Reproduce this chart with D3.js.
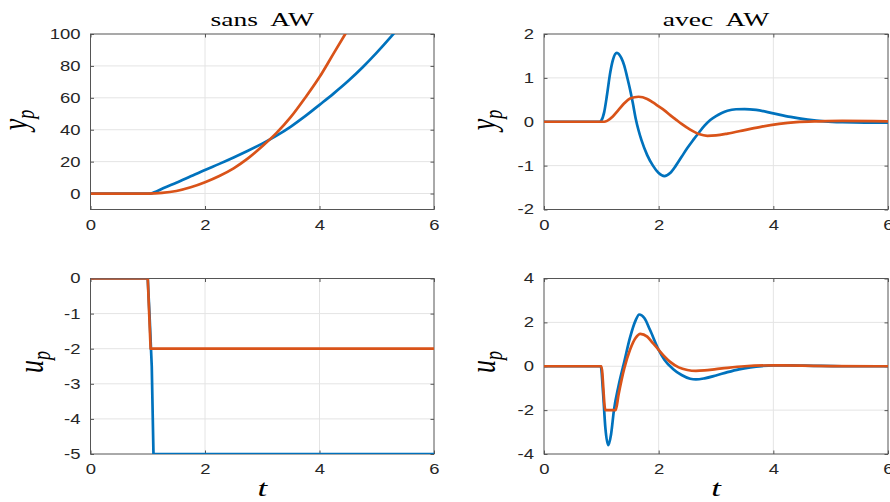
<!DOCTYPE html>
<html>
<head>
<meta charset="utf-8">
<script src="https://cdn.jsdelivr.net/npm/d3@7"></script>
<style>
  body { margin: 0; background: #fff; }
  svg { display: block; }
</style>
</head>
<body>
<svg id="chart" width="890" height="502"></svg>
<script>
// ---------- data ----------
const xTicks = [0, 2, 4, 6];

// top-left: y_p without anti-windup
const tlBlueT = [0, 1.05, 1.1, 1.3, 1.5, 1.75, 2, 2.25, 2.5, 2.75, 3, 3.25, 3.5, 3.75, 4, 4.25, 4.5, 4.75, 5, 5.25, 5.35];
const tlBlueY = [0, 0, 0.6, 3.8, 6.8, 10.8, 14.8, 18.6, 22.6, 26.8, 31.3, 36.3, 42, 48.5, 55.6, 62.8, 70.5, 79, 88.3, 98.3, 102.5];
const tlOrangeT = [0, 1.0, 1.25, 1.5, 1.75, 2, 2.25, 2.5, 2.75, 3, 3.25, 3.5, 3.75, 4, 4.25, 4.45, 4.5];
const tlOrangeY = [0, 0, 0.4, 1.6, 3.9, 7.1, 11, 15.8, 22, 29.6, 38, 48, 60, 73, 88, 100, 103];
const tlYTicks = [0, 20, 40, 60, 80, 100];

// top-right: y_p with anti-windup
const trBlueT = [0, 0.97, 1.0, 1.05, 1.1, 1.15, 1.2, 1.27, 1.35, 1.4, 1.45, 1.5, 1.55, 1.6, 1.65, 1.7, 1.8, 1.9, 2.0, 2.1, 2.2, 2.3, 2.4, 2.5, 2.6, 2.7, 2.8, 2.9, 3.0, 3.1, 3.2, 3.35, 3.5, 3.7, 4.0, 4.3, 4.6, 4.9, 5.2, 5.6, 6];
const trBlueY = [0, 0, 0.03, 0.22, 0.62, 1.08, 1.4, 1.57, 1.45, 1.28, 1.02, 0.74, 0.42, 0.07, -0.2, -0.42, -0.76, -1.0, -1.17, -1.24, -1.17, -1.0, -0.8, -0.6, -0.42, -0.25, -0.09, 0.04, 0.13, 0.2, 0.25, 0.285, 0.29, 0.27, 0.19, 0.11, 0.05, 0.01, -0.01, -0.02, -0.02];
const trOrangeT = [0, 1.05, 1.1, 1.2, 1.3, 1.4, 1.5, 1.65, 1.8, 1.9, 2.0, 2.1, 2.2, 2.3, 2.4, 2.55, 2.7, 2.85, 3.0, 3.2, 3.5, 3.8, 4.1, 4.4, 4.8, 5.2, 6];
const trOrangeY = [0, 0, 0.02, 0.12, 0.27, 0.42, 0.53, 0.57, 0.52, 0.44, 0.35, 0.26, 0.15, 0.05, -0.05, -0.18, -0.28, -0.32, -0.31, -0.27, -0.19, -0.11, -0.05, -0.01, 0.01, 0.02, 0.01];
const trYTicks = [-2, -1, 0, 1, 2];

// bottom-left: u_p without anti-windup
const blBlueT = [0, 1.0, 1.03, 1.07, 1.1, 6];
const blBlueY = [0, 0, -1, -2.5, -5, -5];
const blOrangeT = [0, 1.0, 1.05, 6];
const blOrangeY = [0, 0, -2, -2];
const blYTicks = [-5, -4, -3, -2, -1, 0];

// bottom-right: u_p with anti-windup
const brBlueT = [0, 0.99, 1.03, 1.07, 1.12, 1.17, 1.22, 1.3, 1.4, 1.5, 1.6, 1.66, 1.75, 1.85, 2.0, 2.1, 2.25, 2.4, 2.55, 2.65, 2.8, 3.0, 3.2, 3.4, 3.6, 3.8, 4.0, 4.3, 4.7, 5.2, 6];
const brBlueY = [0, 0, -1.2, -2.8, -3.6, -3.1, -2.0, -0.9, 0.2, 1.3, 2.1, 2.36, 2.2, 1.65, 0.75, 0.3, -0.12, -0.4, -0.57, -0.6, -0.55, -0.42, -0.27, -0.14, -0.05, 0.01, 0.04, 0.04, 0.02, 0.0, 0];
const brOrangeT = [0, 1.0, 1.07, 1.25, 1.3, 1.4, 1.5, 1.6, 1.68, 1.8, 1.9, 2.0, 2.1, 2.2, 2.35, 2.5, 2.65, 2.8, 3.0, 3.2, 3.5, 4.0, 4.5, 5, 6];
const brOrangeY = [0, 0, -2, -2, -1.3, -0.1, 0.75, 1.3, 1.48, 1.35, 1.05, 0.75, 0.45, 0.2, -0.05, -0.17, -0.21, -0.19, -0.13, -0.07, 0.0, 0.04, 0.03, 0.01, 0];
const brYTicks = [-4, -2, 0, 2, 4];

const titles = ["sans  AW", "avec  AW"];

// ---------- layout ----------
const BLUE = "#0072BD", ORANGE = "#D95319";
const zip = (t, y) => t.map((v, i) => [v, y[i]]);

const panels = [
  {x0: 90.5, x1: 434, y0: 34, y1: 209.5, ydom: [-10, 100], yt: tlYTicks, blue: zip(tlBlueT, tlBlueY), orange: zip(tlOrangeT, tlOrangeY), curve: d3.curveMonotoneX, label: "y", title: titles[0], lx: 27, ly: 120},
  {x0: 544, x1: 888, y0: 34, y1: 209.5, ydom: [-2, 2], yt: trYTicks, blue: zip(trBlueT, trBlueY), orange: zip(trOrangeT, trOrangeY), curve: d3.curveMonotoneX, label: "y", title: titles[1], lx: 495, ly: 120},
  {x0: 90.5, x1: 434, y0: 278.5, y1: 454, ydom: [-5, 0], yt: blYTicks, blue: zip(blBlueT, blBlueY), orange: zip(blOrangeT, blOrangeY), curve: d3.curveLinear, label: "u", t: true, lx: 43, ly: 362},
  {x0: 544, x1: 888, y0: 278.5, y1: 454, ydom: [-4, 4], yt: brYTicks, blue: zip(brBlueT, brBlueY), orange: zip(brOrangeT, brOrangeY), curve: d3.curveMonotoneX, label: "u", t: true, lx: 495, ly: 362}
];

const svg = d3.select("#chart");
const SX = 1.32;           // horizontal stretch of tick text
const TICKFONT = "Liberation Sans, Arial, sans-serif";
const SERIF = "Liberation Serif, 'Times New Roman', serif";

panels.forEach((p, i) => {
  const x = d3.scaleLinear().domain([0, 6]).range([p.x0, p.x1]);
  const y = d3.scaleLinear().domain(p.ydom).range([p.y1, p.y0]);
  const g = svg.append("g");

  // grid
  g.append("g").selectAll("line").data(xTicks.slice(1, -1)).join("line")
    .attr("x1", d => x(d)).attr("x2", d => x(d)).attr("y1", p.y0).attr("y2", p.y1)
    .attr("stroke", "#e4e4e4").attr("stroke-width", 1);
  g.append("g").selectAll("line").data(p.yt.filter(d => y(d) > p.y0 + 1 && y(d) < p.y1 - 1)).join("line")
    .attr("x1", p.x0).attr("x2", p.x1).attr("y1", d => y(d)).attr("y2", d => y(d))
    .attr("stroke", "#e4e4e4").attr("stroke-width", 1);

  // axes
  const styleAxis = (sel) => {
    sel.select(".domain").remove();
    sel.selectAll(".tick line").attr("stroke", "#555").attr("stroke-width", 1);
    sel.selectAll(".tick text").attr("fill", "#262626")
      .style("font-family", TICKFONT).style("font-size", "14px");
  };
  const fmt = d => (d < 0 ? "-" : "") + Math.abs(d);
  const ax = g.append("g").attr("transform", `translate(0,${p.y1})`)
    .call(d3.axisBottom(x).tickValues(xTicks).tickSizeInner(-3.5).tickSizeOuter(0).tickPadding(10.5).tickFormat(fmt));
  styleAxis(ax);
  ax.selectAll(".tick text").each(function () {
    const t = d3.select(this);
    const yy = +t.attr("y");
    t.attr("y", null).attr("transform", `translate(0,${yy}) scale(${SX},1)`);
  });
  const ay = g.append("g").attr("transform", `translate(${p.x0},0)`)
    .call(d3.axisLeft(y).tickValues(p.yt).tickSizeInner(-3.5).tickSizeOuter(0).tickPadding(10).tickFormat(fmt));
  styleAxis(ay);
  ay.selectAll(".tick text").each(function () {
    const t = d3.select(this);
    const xx = +t.attr("x");
    t.attr("x", null).attr("transform", `translate(${xx},0) scale(${SX},1)`);
  });
  const at = g.append("g").attr("transform", `translate(0,${p.y0})`)
    .call(d3.axisTop(x).tickValues(xTicks).tickSizeInner(-3.5).tickSizeOuter(0).tickFormat(""));
  styleAxis(at);
  const ar = g.append("g").attr("transform", `translate(${p.x1},0)`)
    .call(d3.axisRight(y).tickValues(p.yt).tickSizeInner(-3.5).tickSizeOuter(0).tickFormat(""));
  styleAxis(ar);

  // box
  g.append("rect").attr("x", p.x0).attr("y", p.y0)
    .attr("width", p.x1 - p.x0).attr("height", p.y1 - p.y0)
    .attr("fill", "none").attr("stroke", "#555").attr("stroke-width", 1);

  // clip
  const cid = "clip" + i;
  svg.append("clipPath").attr("id", cid).append("rect")
    .attr("x", p.x0).attr("y", p.y0).attr("width", p.x1 - p.x0).attr("height", p.y1 - p.y0);

  const line = d3.line().x(d => x(d[0])).y(d => y(d[1])).curve(p.curve);
  const lg = g.append("g").attr("clip-path", `url(#${cid})`);
  lg.append("path").datum(p.blue).attr("d", line)
    .attr("fill", "none").attr("stroke", BLUE).attr("stroke-width", 2.7).attr("stroke-linejoin", "round");
  lg.append("path").datum(p.orange).attr("d", line)
    .attr("fill", "none").attr("stroke", ORANGE).attr("stroke-width", 2.7).attr("stroke-linejoin", "round");

  // title
  if (p.title) {
    g.append("text")
      .attr("transform", `translate(${(p.x0 + p.x1) / 2},26) scale(1.45,1)`)
      .attr("text-anchor", "middle").attr("fill", "#000")
      .style("font-family", SERIF).style("font-size", "19px")
      .style("white-space", "pre").attr("xml:space", "preserve")
      .text(p.title);
  }
  // x label
  if (p.t) {
    g.append("text")
      .attr("transform", `translate(${(p.x0 + p.x1) / 2},496) scale(1.45,1)`)
      .attr("text-anchor", "middle").attr("fill", "#000")
      .style("font-family", SERIF).style("font-style", "italic").style("font-size", "24px")
      .text("t");
  }
  // y label
  const yl = g.append("text")
    .attr("transform", `translate(${p.lx},${p.ly}) scale(1.4,1) rotate(-90)`)
    .attr("text-anchor", "middle").attr("fill", "#000")
    .style("font-family", SERIF).style("font-style", "italic").style("font-size", "26px");
  yl.append("tspan").text(p.label);
  yl.append("tspan").attr("dy", 5).style("font-size", "18px").text("p");
});
</script>
</body>
</html>
